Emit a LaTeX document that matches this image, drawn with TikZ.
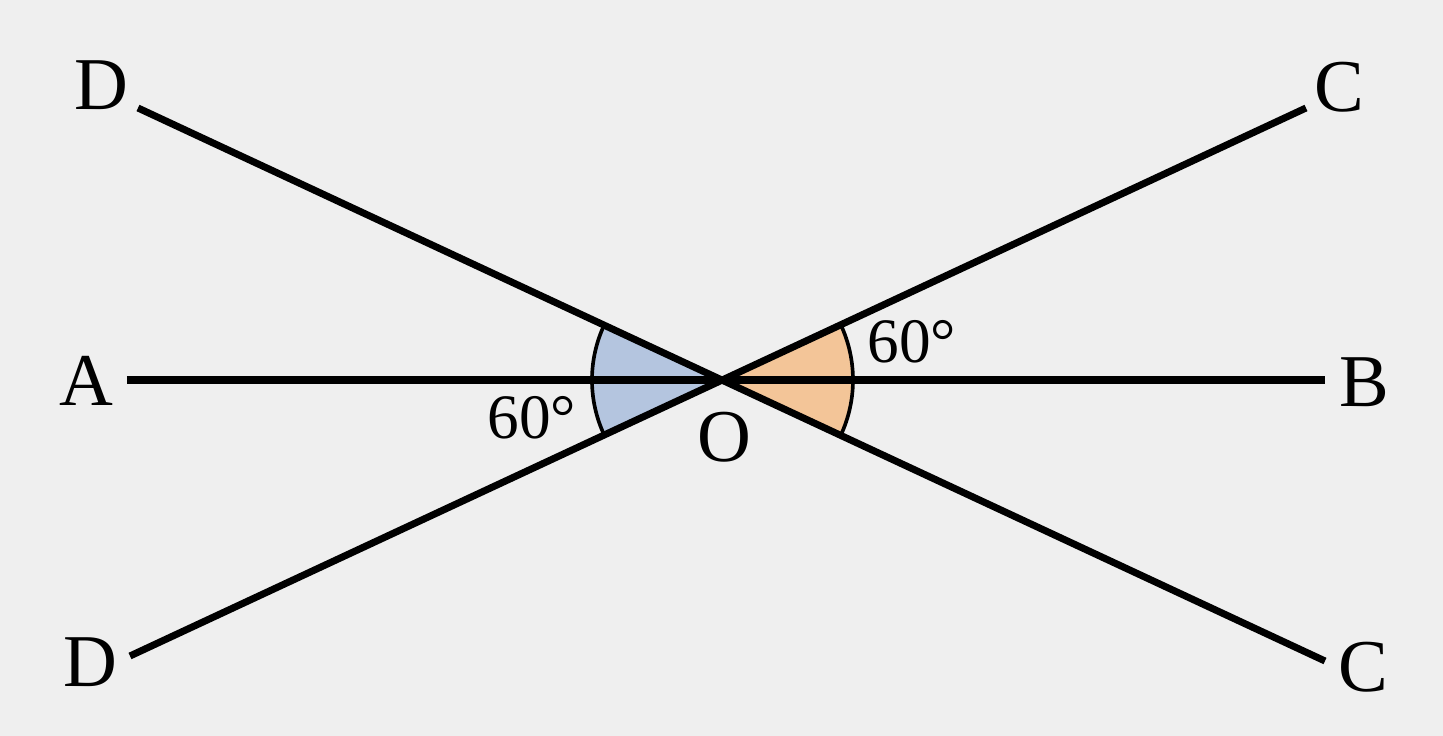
\documentclass[tikz,border=0pt]{standalone}
\usepackage{fontspec}
\setmainfont{Liberation Serif}
\definecolor{paper}{RGB}{239,239,239}
\definecolor{wedgeblue}{RGB}{180,197,223}
\definecolor{wedgeorange}{RGB}{243,197,152}
\begin{document}
\begin{tikzpicture}[x=0.025cm, y=0.025cm]
   \tikzstyle{letter} = [font=\fontsize{53}{60}\selectfont, inner sep=0pt]
   \tikzstyle{degree} = [font=\fontsize{45}{50}\selectfont, inner sep=0pt]
   \tikzstyle{arm} = [line width=5pt]
   \tikzstyle{rim} = [line width=2.6pt]

   \useasboundingbox (-722,-356) rectangle (721,380);
   \fill[paper] (-722,-356) rectangle (721,380);

      % end points of the three lines
      \coordinate (O) at (0,0);
      \coordinate (a) at (-595,0);
      \coordinate (b) at (603,0);
      \coordinate (d1) at (-584,272);
      \coordinate (c2) at (603,-281);
      \coordinate (d2) at (-592,-276);
      \coordinate (c1) at (584,272);

  % angle wedges
  \fill[wedgeblue] (O) -- (155:130) arc[start angle=155, end angle=205, radius=130] -- cycle;
  \fill[wedgeorange] (O) -- (-25:131) arc[start angle=-25, end angle=25, radius=131] -- cycle;
  \draw[rim] (155:130) arc[start angle=155, end angle=205, radius=130];
  \draw[rim] (-25:131) arc[start angle=-25, end angle=25, radius=131];

  \begin{scope}[arm]
    \draw (a) -- (b);
    \draw (d1) -- (c2);
    \draw (d2) -- (c1);
  \end{scope}

      \draw
        (-621, 295) node[letter] (D1){D}
        (617, 293) node[letter] (C1){C}
        (-636, -1) node[letter] (A){A}
        (642, -2) node[letter] (B){B}
        (-632, -282) node[letter] (D2){D}
        (641, -287) node[letter] (C2){C}
        (2, -57) node[letter] (Olbl){O}
        (-190, -38) node[degree] (ang1){60°}
        (190, 38) node[degree] (ang2){60°};
\end{tikzpicture}
\end{document}
